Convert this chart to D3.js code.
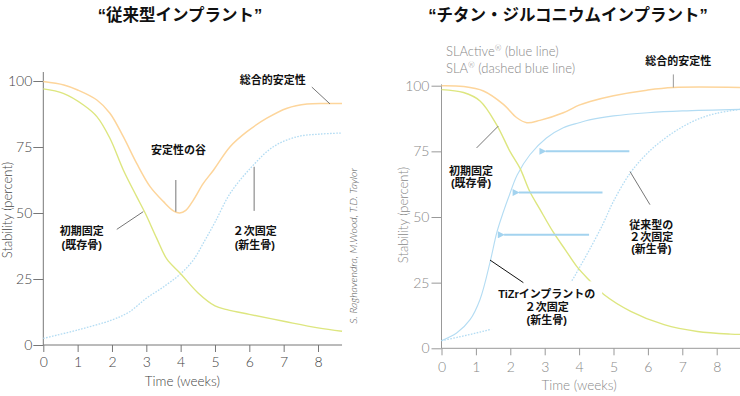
<!DOCTYPE html>
<html>
<head>
<meta charset="utf-8">
<script src="https://cdn.jsdelivr.net/npm/d3@7"></script>
<style>
body { margin: 0; background: #fff; }
svg { display: block; }
.tick text { font-family: Lato, "Open Sans", sans-serif; font-weight: 300; font-size: 14px; }
.note { font-family: "Liberation Sans", "Noto Sans CJK JP", sans-serif; font-weight: bold; font-size: 11px; fill: #111; }
.title { font-family: "Liberation Sans", "Noto Sans CJK JP", sans-serif; font-weight: bold; font-size: 16.5px; fill: #111; }
.light { font-family: Lato, "Open Sans", sans-serif; font-weight: 300; }
</style>
</head>
<body>
<svg id="chart" width="740" height="396"></svg>
<script>
var week_ticks = [0, 1, 2, 3, 4, 5, 6, 7, 8];
var stability_ticks = [0, 25, 50, 75, 100];

// conventional implant: [week, percent]
var conv_total = [[0, 99.8], [0.6, 98.5], [1.0, 96.6], [1.56, 92.8], [1.94, 87.8], [2.33, 78.9], [2.72, 68.8], [3.11, 60], [3.5, 54.3], [3.8, 50.7], [3.97, 50], [4.15, 51], [4.37, 54.9], [4.66, 61.2], [4.96, 66.3], [5.44, 75.1], [5.93, 80.8], [6.51, 85.9], [7.1, 89.7], [7.68, 91.3], [8.26, 91.5], [8.7, 91.5]];
var conv_primary = [[0, 97], [0.58, 95.3], [1.17, 90.9], [1.56, 86.5], [1.94, 78.3], [2.33, 66.3], [2.72, 56.2], [2.97, 49.9], [3.3, 40.5], [3.6, 32.5], [4.0, 27], [4.5, 19.8], [5.0, 14.8], [5.35, 13.4], [6, 11.6], [7, 9], [8, 6.5], [8.7, 5.2]];
var conv_secondary = [[0, 2.5], [1, 5.7], [2, 9.5], [2.5, 12.5], [3, 17.7], [3.5, 22], [4, 27], [4.37, 32.2], [4.7, 39.5], [5, 46.5], [5.44, 57.4], [6.07, 67.5], [6.7, 75.1], [7.39, 78.9], [8.07, 79.9], [8.7, 80.3]];

// titanium-zirconium implant
var tizr_total = [[0, 100], [0.64, 99.7], [1.22, 98], [1.8, 92.9], [2.19, 87.8], [2.48, 85.9], [2.86, 86.8], [3.54, 89.7], [4.0, 92.6], [4.32, 94], [5.0, 96.2], [5.97, 98.3], [6.74, 99.3], [8.7, 99.3]];
var tizr_primary = [[0, 98.5], [0.64, 97.4], [1.12, 94.2], [1.6, 85.2], [1.99, 75], [2.28, 68.6], [2.57, 59.6], [2.85, 53.2], [3.25, 44.2], [3.6, 37.5], [3.93, 31.2], [4.27, 26.3], [4.72, 20.5], [5.5, 14.1], [6.47, 9], [7.44, 6.4], [8.4, 5.4], [8.7, 5.3]];
var slactive_secondary = [[0, 2.9], [0.44, 5.8], [0.83, 10.9], [1.12, 18.6], [1.41, 32.7], [1.61, 44.2], [1.8, 52], [1.95, 57.5], [2.2, 66], [2.57, 73.7], [3.05, 80.1], [3.54, 84], [4.0, 85.9], [4.3, 87], [5.0, 88.5], [6.0, 89.7], [7.0, 90.4], [8.7, 91]];
var sla_secondary = [[0, 2.9], [0.5, 4.3], [1.0, 5.8], [1.45, 7.3], [2, 9.5], [2.5, 12.5], [3, 16], [3.5, 21], [3.8, 26], [4.0, 30.5], [4.3, 37.5], [4.7, 47.5], [5.0, 56], [5.5, 67], [6.0, 74.5], [6.5, 80], [7.0, 84.3], [7.5, 87.5], [8.0, 89.5], [8.7, 91]];

// shift arrows: level, from week, to week
var arrow_levels = [75, 59.3, 43.2];
var arrow_from = [5.46, 4.68, 4.29];
var arrow_to = [3.03, 2.25, 1.82];

var colors = { total: '#fdd59b', primary: '#dde67f', secondary: '#b3dcf3', arrow: '#a3d3ef' };

var svg = d3.select('#chart');

function drawPanel(opts){
    var x = d3.scaleLinear().domain([0, 8]).range(opts.x_range);
    var y = d3.scaleLinear().domain([0, 100]).range(opts.y_range);
    var g = svg.append('g');

    g.append('line')
        .attr('x1', x(0)).attr('x2', x(0))
        .attr('y1', y(0)).attr('y2', y(opts.y_top))
        .attr('stroke', opts.axis_color);
    g.append('line')
        .attr('x1', x(0)).attr('x2', x(8.7))
        .attr('y1', y(0)).attr('y2', y(0))
        .attr('stroke', opts.axis_color);

    var y_axis = g.append('g')
        .attr('transform', 'translate(' + x(0) + ',0)')
        .call(d3.axisLeft(y).tickValues(stability_ticks).tickSize(10).tickPadding(opts.y_pad));
    var x_axis = g.append('g')
        .attr('transform', 'translate(0,' + y(0) + ')')
        .call(d3.axisBottom(x).tickValues(week_ticks).tickSize(7).tickPadding(opts.x_pad));
    [y_axis, x_axis].forEach(function(a){
        a.select('.domain').remove();
        a.selectAll('.tick line').attr('stroke', opts.axis_color);
        a.selectAll('.tick text').attr('fill', opts.label_color);
    });

    g.append('text')
        .attr('class', 'light')
        .attr('x', x(opts.time_label[0])).attr('y', opts.time_label[1])
        .attr('text-anchor', 'middle')
        .attr('font-size', 13.5).attr('fill', opts.label_color)
        .text('Time (weeks)');
    g.append('text')
        .attr('class', 'light')
        .attr('transform', 'translate(' + opts.stab_label[0] + ',' + opts.stab_label[1] + ') rotate(-90)')
        .attr('text-anchor', 'middle')
        .attr('font-size', 13).attr('fill', opts.label_color)
        .text('Stability (percent)');

    g.append('text')
        .attr('class', 'title')
        .attr('x', opts.title_pos[0]).attr('y', opts.title_pos[1])
        .attr('text-anchor', 'middle')
        .text(opts.title);

    var line = d3.line()
        .x(function(d){ return x(d[0]); })
        .y(function(d){ return y(d[1]); })
        .curve(d3.curveCatmullRom.alpha(0.5));

    opts.series.forEach(function(s){
        g.append('path')
            .datum(s.data)
            .attr('d', line)
            .attr('fill', 'none')
            .attr('stroke', s.color)
            .attr('stroke-width', s.width || 1.5)
            .attr('stroke-dasharray', s.dash || null);
    });

    return { g: g, x: x, y: y };
}

function leader(p, a, b, color){
    p.g.append('line')
        .attr('x1', p.x(a[0])).attr('y1', p.y(a[1]))
        .attr('x2', p.x(b[0])).attr('y2', p.y(b[1]))
        .attr('stroke', color || '#777')
        .attr('stroke-width', 1);
}

function note(p, pos, lines, step){
    var t = p.g.append('text')
        .attr('class', 'note')
        .attr('text-anchor', 'middle');
    lines.forEach(function(l, i){
        t.append('tspan')
            .attr('x', p.x(pos[0]))
            .attr('y', p.y(pos[1]) + i * (step || 13.5))
            .text(l);
    });
}

var left = drawPanel({
    x_range: [43.3, 318], y_range: [345, 81], y_top: 103.4,
    axis_color: '#777', label_color: '#444', y_pad: 1, x_pad: 5,
    time_label: [4.05, 386], stab_label: [12, 210],
    title: '“従来型インプラント”', title_pos: [180, 21],
    series: [
        { data: conv_secondary, color: colors.secondary, dash: '1.6,1.4', width: 1.3 },
        { data: conv_primary, color: colors.primary, width: 1.4 },
        { data: conv_total, color: colors.total }
    ]
});

note(left, [6.68, 98.9], ['総合的安定性']);
leader(left, [7.82, 97.7], [8.35, 91.3]);
note(left, [3.94, 72.3], ['安定性の谷']);
leader(left, [3.86, 62.5], [3.86, 50.5]);
note(left, [1.12, 41.5], ['初期固定', '(既存骨)']);
leader(left, [2.14, 43.8], [2.91, 50.5]);
note(left, [6.16, 41.5], ['２次固定', '(新生骨)']);
leader(left, [6.14, 67.5], [6.14, 50.8]);

svg.append('text')
    .attr('class', 'light')
    .attr('transform', 'translate(357,246) rotate(-90)')
    .attr('text-anchor', 'middle')
    .attr('font-size', 10.5)
    .attr('font-style', 'italic')
    .attr('font-weight', 400)
    .attr('fill', '#555')
    .text('S. Raghavendra, M.Wood, T.D. Taylor');

var right = drawPanel({
    x_range: [441.5, 716.7], y_range: [348.3, 85.7], y_top: 100.5,
    axis_color: '#999', label_color: '#888', y_pad: 2, x_pad: 7,
    time_label: [4.0, 390], stab_label: [408, 215],
    title: '“チタン・ジルコニウムインプラント”', title_pos: [568, 21],
    series: [
        { data: sla_secondary, color: colors.secondary, dash: '1.6,1.4', width: 1.3 },
        { data: slactive_secondary, color: colors.secondary, width: 1.1 },
        { data: tizr_primary, color: colors.primary, width: 1.4 },
        { data: tizr_total, color: colors.total }
    ]
});

// arrowheads
svg.append('defs').append('marker')
    .attr('id', 'head')
    .attr('viewBox', '0 0 10 10')
    .attr('refX', 1).attr('refY', 5)
    .attr('markerWidth', 10).attr('markerHeight', 7)
    .attr('markerUnits', 'userSpaceOnUse')
    .attr('orient', 'auto-start-reverse')
    .append('path')
    .attr('d', 'M0,5L10,0L10,10Z')
    .attr('fill', colors.arrow);

right.g.selectAll('.shift')
    .data(arrow_levels)
    .enter().append('line')
    .attr('class', 'shift')
    .attr('x1', function(d, i){ return right.x(arrow_to[i]); })
    .attr('x2', function(d, i){ return right.x(arrow_from[i]); })
    .attr('y1', function(d){ return right.y(d); })
    .attr('y2', function(d){ return right.y(d); })
    .attr('stroke', colors.arrow)
    .attr('stroke-width', 2)
    .attr('marker-start', 'url(#head)');

// legend
right.g.append('text')
    .attr('class', 'light')
    .attr('x', right.x(0.13)).attr('y', 56)
    .attr('font-size', 13).attr('fill', '#888')
    .html('SLActive<tspan font-size="8" dy="-5">®</tspan><tspan dy="5"> (blue line)</tspan>');
right.g.append('text')
    .attr('class', 'light')
    .attr('x', right.x(0.13)).attr('y', 73)
    .attr('font-size', 13).attr('fill', '#888')
    .html('SLA<tspan font-size="8" dy="-5">®</tspan><tspan dy="5"> (dashed blue line)</tspan>');

note(right, [6.88, 107.8], ['総合的安定性']);
leader(right, [6.74, 104.3], [6.74, 99.3], '#999');
note(right, [0.86, 66.1], ['初期固定', '(既存骨)'], 12.5);
leader(right, [1.02, 76.3], [1.65, 84.6]);
note(right, [6.1, 45.3], ['従来型の', '２次固定', '(新生骨)'], 12);

leader(right, [5.48, 67.3], [6.06, 54.7]);

// white box behind the TiZr label hides the SLA line there
right.g.append('rect')
    .attr('x', right.x(1.44)).attr('y', right.y(25.5))
    .attr('width', right.x(4.67) - right.x(1.44))
    .attr('height', right.y(7.0) - right.y(25.5))
    .attr('fill', '#fff');
note(right, [3.06, 19.3], ['TiZrインプラントの', '２次固定', '(新生骨)'], 13);
leader(right, [1.41, 33.6], [2.38, 25], '#111');
</script>
</body>
</html>
